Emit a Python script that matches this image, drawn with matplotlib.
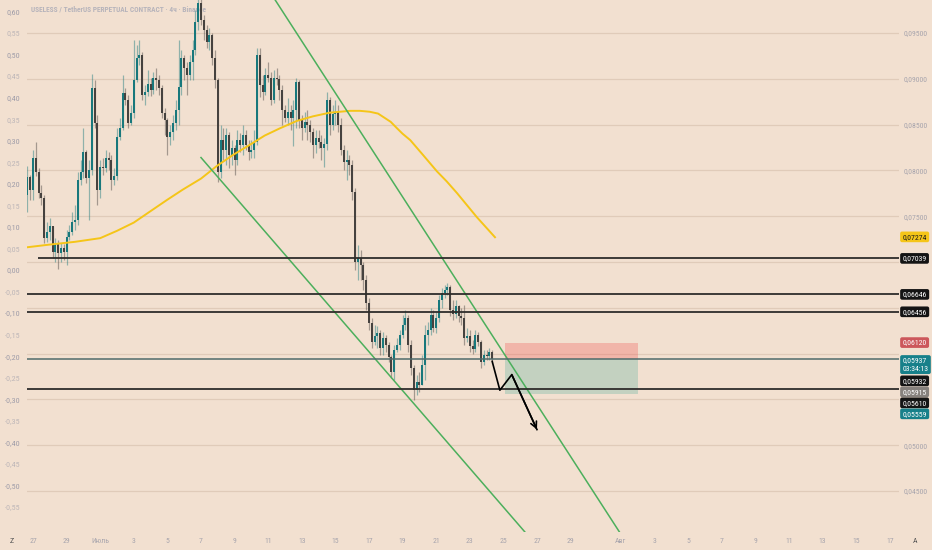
import pandas as pd
import matplotlib
matplotlib.use('Agg')
import matplotlib.pyplot as plt
import matplotlib.dates as mdates
from matplotlib import font_manager
from matplotlib.transforms import blended_transform_factory

# USELESS / USDT perp, 4h candles
first_candle = '2025-06-26 16:00'
first_open = 0.0773
closes = [0.0793, 0.0779, 0.0814, 0.0798, 0.0775, 0.0770, 0.0726, 0.0733, 0.0739, 0.0711,
          0.0720, 0.0710, 0.0715, 0.0711, 0.0727, 0.0733, 0.0744, 0.0746, 0.0790, 0.0798,
          0.0820, 0.0792, 0.0800, 0.0890, 0.0852, 0.0779, 0.0804, 0.0803, 0.0814, 0.0811,
          0.0790, 0.0794, 0.0836, 0.0846, 0.0885, 0.0877, 0.0852, 0.0863, 0.0899, 0.0923,
          0.0926, 0.0882, 0.0886, 0.0894, 0.0888, 0.0901, 0.0899, 0.0890, 0.0863, 0.0855,
          0.0836, 0.0842, 0.0852, 0.0866, 0.0891, 0.0923, 0.0912, 0.0904, 0.0918, 0.0931,
          0.0962, 0.0983, 0.0964, 0.0953, 0.0940, 0.0948, 0.0923, 0.0899, 0.0798, 0.0833,
          0.0822, 0.0839, 0.0817, 0.0824, 0.0811, 0.0833, 0.0828, 0.0839, 0.0828, 0.0820,
          0.0822, 0.0831, 0.0926, 0.0893, 0.0886, 0.0904, 0.0901, 0.0877, 0.0901, 0.0900,
          0.0888, 0.0866, 0.0857, 0.0864, 0.0857, 0.0866, 0.0897, 0.0855, 0.0846, 0.0853,
          0.0850, 0.0842, 0.0828, 0.0835, 0.0831, 0.0824, 0.0829, 0.0877, 0.0850, 0.0862,
          0.0864, 0.0850, 0.0822, 0.0809, 0.0811, 0.0806, 0.0776, 0.0700, 0.0704, 0.0697,
          0.0680, 0.0655, 0.0633, 0.0613, 0.0619, 0.0622, 0.0606, 0.0617, 0.0609, 0.0596,
          0.0580, 0.0604, 0.0609, 0.0620, 0.0631, 0.0639, 0.0609, 0.0584, 0.0560, 0.0569,
          0.0566, 0.0588, 0.0620, 0.0626, 0.0642, 0.0628, 0.0639, 0.0658, 0.0666, 0.0669,
          0.0673, 0.0648, 0.0643, 0.0652, 0.0641, 0.0639, 0.0617, 0.0619, 0.0608, 0.0605,
          0.0620, 0.0613, 0.0591, 0.0598, 0.0597, 0.0602, 0.0594]
highs = [0.0805, 0.0795, 0.0822, 0.0831, 0.0803, 0.0784, 0.0773, 0.0744, 0.0748, 0.0739,
         0.0726, 0.0724, 0.0721, 0.0720, 0.0735, 0.0740, 0.0755, 0.0762, 0.0798, 0.0811,
         0.0846, 0.0822, 0.0811, 0.0905, 0.0899, 0.0860, 0.0811, 0.0814, 0.0822, 0.0820,
         0.0817, 0.0803, 0.0846, 0.0857, 0.0904, 0.0890, 0.0882, 0.0871, 0.0942, 0.0937,
         0.0942, 0.0929, 0.0893, 0.0910, 0.0901, 0.0907, 0.0912, 0.0904, 0.0893, 0.0868,
         0.0857, 0.0850, 0.0860, 0.0877, 0.0942, 0.0931, 0.0926, 0.0918, 0.0926, 0.0942,
         0.0975, 0.0991, 0.0991, 0.0970, 0.0959, 0.0955, 0.0950, 0.0931, 0.0901, 0.0850,
         0.0846, 0.0846, 0.0842, 0.0833, 0.0828, 0.0844, 0.0841, 0.0850, 0.0844, 0.0833,
         0.0833, 0.0844, 0.0934, 0.0934, 0.0904, 0.0912, 0.0918, 0.0907, 0.0910, 0.0912,
         0.0904, 0.0893, 0.0871, 0.0879, 0.0871, 0.0877, 0.0901, 0.0899, 0.0860, 0.0864,
         0.0866, 0.0855, 0.0846, 0.0844, 0.0844, 0.0839, 0.0835, 0.0886, 0.0880, 0.0871,
         0.0877, 0.0871, 0.0857, 0.0828, 0.0822, 0.0817, 0.0811, 0.0781, 0.0718, 0.0713,
         0.0700, 0.0686, 0.0661, 0.0639, 0.0631, 0.0630, 0.0626, 0.0624, 0.0620, 0.0613,
         0.0598, 0.0609, 0.0617, 0.0626, 0.0642, 0.0648, 0.0642, 0.0615, 0.0588, 0.0577,
         0.0580, 0.0598, 0.0631, 0.0634, 0.0650, 0.0648, 0.0645, 0.0664, 0.0672, 0.0675,
         0.0677, 0.0675, 0.0658, 0.0658, 0.0653, 0.0650, 0.0653, 0.0628, 0.0626, 0.0615,
         0.0626, 0.0624, 0.0615, 0.0604, 0.0604, 0.0606, 0.0604]
lows = [0.0755, 0.0768, 0.0768, 0.0794, 0.0770, 0.0762, 0.0721, 0.0722, 0.0724, 0.0704,
        0.0700, 0.0692, 0.0700, 0.0702, 0.0697, 0.0724, 0.0729, 0.0735, 0.0740, 0.0784,
        0.0792, 0.0786, 0.0746, 0.0795, 0.0846, 0.0762, 0.0770, 0.0795, 0.0798, 0.0800,
        0.0779, 0.0784, 0.0790, 0.0833, 0.0844, 0.0871, 0.0846, 0.0850, 0.0857, 0.0897,
        0.0915, 0.0877, 0.0871, 0.0881, 0.0881, 0.0883, 0.0888, 0.0882, 0.0857, 0.0839,
        0.0817, 0.0828, 0.0833, 0.0844, 0.0850, 0.0882, 0.0899, 0.0882, 0.0899, 0.0899,
        0.0926, 0.0953, 0.0959, 0.0942, 0.0934, 0.0931, 0.0915, 0.0890, 0.0787, 0.0792,
        0.0811, 0.0806, 0.0803, 0.0806, 0.0795, 0.0806, 0.0820, 0.0817, 0.0822, 0.0811,
        0.0814, 0.0814, 0.0828, 0.0880, 0.0877, 0.0882, 0.0897, 0.0871, 0.0874, 0.0893,
        0.0877, 0.0850, 0.0853, 0.0850, 0.0844, 0.0827, 0.0846, 0.0846, 0.0833, 0.0842,
        0.0833, 0.0831, 0.0814, 0.0819, 0.0824, 0.0811, 0.0804, 0.0822, 0.0839, 0.0844,
        0.0850, 0.0842, 0.0817, 0.0800, 0.0790, 0.0795, 0.0768, 0.0691, 0.0680, 0.0680,
        0.0669, 0.0648, 0.0626, 0.0606, 0.0609, 0.0606, 0.0598, 0.0598, 0.0602, 0.0591,
        0.0573, 0.0571, 0.0602, 0.0604, 0.0617, 0.0626, 0.0602, 0.0577, 0.0549, 0.0555,
        0.0558, 0.0566, 0.0571, 0.0609, 0.0620, 0.0624, 0.0622, 0.0634, 0.0650, 0.0661,
        0.0664, 0.0641, 0.0637, 0.0639, 0.0634, 0.0631, 0.0609, 0.0613, 0.0602, 0.0600,
        0.0602, 0.0608, 0.0584, 0.0588, 0.0593, 0.0593, 0.0590]

# yellow moving average
ma_dates = ['2025-06-26 15:00', '2025-06-28 00:00', '2025-06-29 12:00', '2025-07-01 00:00',
            '2025-07-02 00:00', '2025-07-03 00:00', '2025-07-03 23:00', '2025-07-05 00:00',
            '2025-07-05 22:00', '2025-07-07 00:00', '2025-07-07 23:00', '2025-07-08 22:00',
            '2025-07-09 22:00', '2025-07-10 19:00', '2025-07-11 17:00', '2025-07-12 17:00',
            '2025-07-13 16:00', '2025-07-14 16:00', '2025-07-15 21:00', '2025-07-16 11:00',
            '2025-07-17 01:00', '2025-07-17 13:00', '2025-07-17 23:00', '2025-07-18 07:00',
            '2025-07-18 16:00', '2025-07-19 00:00', '2025-07-19 11:00', '2025-07-20 05:00',
            '2025-07-21 01:00', '2025-07-21 15:00', '2025-07-22 06:00', '2025-07-22 20:00',
            '2025-07-23 10:00', '2025-07-23 23:00', '2025-07-24 12:00']
ma_values = [0.0716, 0.0719, 0.0722, 0.0726, 0.0734, 0.0743, 0.0755, 0.0768, 0.0779, 0.0791,
             0.0805, 0.0817, 0.0828, 0.0838, 0.0846, 0.0854, 0.0859, 0.0863, 0.0865, 0.0865,
             0.0864, 0.0862, 0.0857, 0.0853, 0.0846, 0.0840, 0.0833, 0.0817, 0.0799, 0.0788,
             0.0775, 0.0762, 0.0749, 0.0738, 0.0727]

# channel trendlines
upper_dates = ['2025-07-11 10:00', '2025-07-31 22:00']
upper_prices = [0.0986, 0.0405]
lower_dates = ['2025-07-07 00:00', '2025-07-26 07:00']
lower_prices = [0.0814, 0.0405]

# horizontal levels
level_prices = [0.07039, 0.06646, 0.06456, 0.05610]
level_starts = ['2025-06-27 07:00', '2025-06-20 00:00', '2025-06-20 00:00', '2025-06-20 00:00']
entry_price = 0.05937
stop_price = 0.06120
target_price = 0.05559
box_dates = ['2025-07-25 03:00', '2025-08-02 00:00']

# projected path
arrow_dates = ['2025-07-24 08:00', '2025-07-24 19:00', '2025-07-25 12:00', '2025-07-27 00:00']
arrow_prices = [0.05915, 0.0560, 0.0577, 0.0517]

# price scale badges
badge_prices = [0.07274, 0.07039, 0.06646, 0.06456, 0.06120, 0.05937, 0.05932, 0.05915, 0.05610, 0.05559]
badge_texts = ['0,07274', '0,07039', '0,06646', '0,06456', '0,06120', '0,05937\n03:34:13',
               '0,05932', '0,05915', '0,05610', '0,05559']
badge_bg = ['#f5c518', '#141414', '#141414', '#141414', '#cc575b', '#17808a',
            '#141414', '#86817d', '#141414', '#17808a']
badge_fg = ['#1a1a1a', 'white', 'white', 'white', 'white', 'white', 'white', 'white', 'white', 'white']

right_ticks = [0.045, 0.050, 0.055, 0.060, 0.065, 0.070, 0.075, 0.080, 0.085, 0.090, 0.095]
left_ticks = [-0.55, -0.50, -0.45, -0.40, -0.35, -0.30, -0.25, -0.20, -0.15, -0.10, -0.05,
              0.00, 0.05, 0.10, 0.15, 0.20, 0.25, 0.30, 0.35, 0.40, 0.45, 0.50, 0.55, 0.60]
date_ticks = ['2025-06-27', '2025-06-29', '2025-07-01', '2025-07-03', '2025-07-05', '2025-07-07',
              '2025-07-09', '2025-07-11', '2025-07-13', '2025-07-15', '2025-07-17', '2025-07-19',
              '2025-07-21', '2025-07-23', '2025-07-25', '2025-07-27', '2025-07-29', '2025-08-01',
              '2025-08-03', '2025-08-05', '2025-08-07', '2025-08-09', '2025-08-11', '2025-08-13',
              '2025-08-15', '2025-08-17']
date_labels = ['27', '29', 'Июль', '3', '5', '7', '9', '11', '13', '15', '17', '19', '21', '23',
               '25', '27', '29', 'Авг', '3', '5', '7', '9', '11', '13', '15', '17']

title = 'USELESS / TetherUS PERPETUAL CONTRACT · 4ч · Binance'

# narrow font if there is one, the screenshot text is quite condensed
installed = {f.name for f in font_manager.fontManager.ttflist}
font = 'DejaVu Sans'
fs = 4.9
for cand in ['Liberation Sans Narrow', 'Roboto Condensed', 'DejaVu Sans Condensed', 'Open Sans Condensed']:
    if cand in installed:
        font = cand
        fs = 5.6
        break
plt.rcParams['font.family'] = [font, 'DejaVu Sans']

bg = '#f2e0d0'
grid_col = '#e0cbb9'
up_col = '#18787c'
down_col = '#46423f'
txt_col = '#a8a5ad'

fig = plt.figure(figsize=(9.32, 5.5), dpi=100, facecolor=bg)
ax = fig.add_axes([27 / 932, 18 / 550, 872 / 932, 532 / 550])
ax.set_facecolor(bg)
axp = ax.twinx()

def d(s):
    return mdates.date2num(pd.Timestamp(s))

ax.set_xlim(d('2025-06-26 15:26'), d('2025-08-17 13:12'))
ax.set_ylim(-0.6079, 0.6265)
axp.set_ylim(0.04052, 0.0986)

for a in (ax, axp):
    for s in a.spines.values():
        s.set_visible(False)

# left scale
ax.set_yticks(left_ticks)
ax.set_yticklabels([f'{v:.2f}'.replace('.', ',') for v in left_ticks])
ax.tick_params(axis='y', length=0, pad=5, labelsize=fs + 0.2)
for v, lab in zip(left_ticks, ax.get_yticklabels()):
    lab.set_color('#9e9ca8' if round(v * 100) % 10 == 0 else '#bdb6b8')

ax.set_xticks([d(s) for s in date_ticks])
ax.set_xticklabels(date_labels)
ax.tick_params(axis='x', length=0, pad=4, labelsize=fs, labelcolor=txt_col)

ax.text(31 / 932, 1 - 10 / 550, title, transform=fig.transFigure, fontsize=fs - 0.3,
        fontweight='bold', color='#b7b4bb', va='center', ha='left')
fig.text(12 / 932, 1 - 541 / 550, 'Z', fontsize=fs, color='#555', ha='center', va='center')
fig.text(915 / 932, 1 - 541 / 550, 'A', fontsize=fs, color='#555', ha='center', va='center')

# candles
times = pd.date_range(first_candle, periods=len(closes), freq='4h')
x = mdates.date2num(times)
opens = [first_open] + closes[:-1]
colors = [up_col if c >= o else down_col for o, c in zip(opens, closes)]
bottoms = [min(o, c) for o, c in zip(opens, closes)]
heights = [max(abs(c - o), 0.00004) for o, c in zip(opens, closes)]
axp.vlines(x, lows, highs, colors=colors, lw=0.9, alpha=0.45, zorder=3)
axp.bar(x, heights, width=0.11, bottom=bottoms, color=colors, lw=0, zorder=4)

# moving average
axp.plot([d(s) for s in ma_dates], ma_values, color='#f5c518', lw=1.4, zorder=5)

# channel
axp.plot([d(s) for s in upper_dates], upper_prices, color='#4caf5c', lw=1.1, zorder=5)
axp.plot([d(s) for s in lower_dates], lower_prices, color='#4caf5c', lw=1.1, zorder=5)

# levels
for p, s in zip(level_prices, level_starts):
    axp.hlines(p, d(s), d('2025-08-25'), color='#2f2d2b', lw=1.3, zorder=5)
axp.axhline(entry_price, color='#4f6b6b', lw=1.1, zorder=5)

# risk / reward box
bx = [d(s) for s in box_dates]
axp.fill_between(bx, entry_price, stop_price, color='#ef5350', alpha=0.3, lw=0, zorder=2)
axp.fill_between(bx, target_price, entry_price, color='#089981', alpha=0.2, lw=0, zorder=2)

# projected move
ax_x = [d(s) for s in arrow_dates]
axp.plot(ax_x, arrow_prices, color='black', lw=1.2, zorder=6)
axp.annotate('', xy=(ax_x[-1], arrow_prices[-1]), xytext=(ax_x[-2], arrow_prices[-2]),
             arrowprops=dict(arrowstyle='->', color='black', lw=1.2, mutation_scale=11,
                             shrinkA=0, shrinkB=0), zorder=6)

# price badges on the right scale, stacked so they do not overlap
trans = blended_transform_factory(axp.transAxes, axp.transData)
prev_bottom = None
spans = []
for p, t, b, f in sorted(zip(badge_prices, badge_texts, badge_bg, badge_fg), key=lambda r: -r[0]):
    n = t.count('\n') + 1
    h = 10.5 * n
    top = axp.transData.transform((0, p))[1] + 5.25
    if prev_bottom is not None and top > prev_bottom - 0.5:
        top = prev_bottom - 0.5
    yc = axp.transData.inverted().transform((0, top - h / 2))[1]
    axp.text(1.004, yc, t, transform=trans, fontsize=fs, color=f, ha='left', va='center',
             linespacing=1.45, clip_on=False, zorder=10,
             bbox=dict(boxstyle='round,pad=0.3,rounding_size=0.25', fc=b, ec='none'))
    prev_bottom = top - h
    spans.append((top + 1, prev_bottom - 1))

# right price scale, labels hidden under a badge like on the platform
right_labels = []
for v in right_ticks:
    yp = axp.transData.transform((0, v))[1]
    covered = any(lo - 4 < yp < hi + 4 for hi, lo in spans)
    right_labels.append('' if covered else f'{v:.5f}'.replace('.', ','))
axp.set_yticks(right_ticks)
axp.set_yticklabels(right_labels)
axp.tick_params(axis='y', length=0, pad=3, labelsize=fs, labelcolor=txt_col)
axp.grid(True, color=grid_col, lw=0.9)
axp.set_axisbelow(True)

fig.savefig('out.png', dpi=100, facecolor=bg)
